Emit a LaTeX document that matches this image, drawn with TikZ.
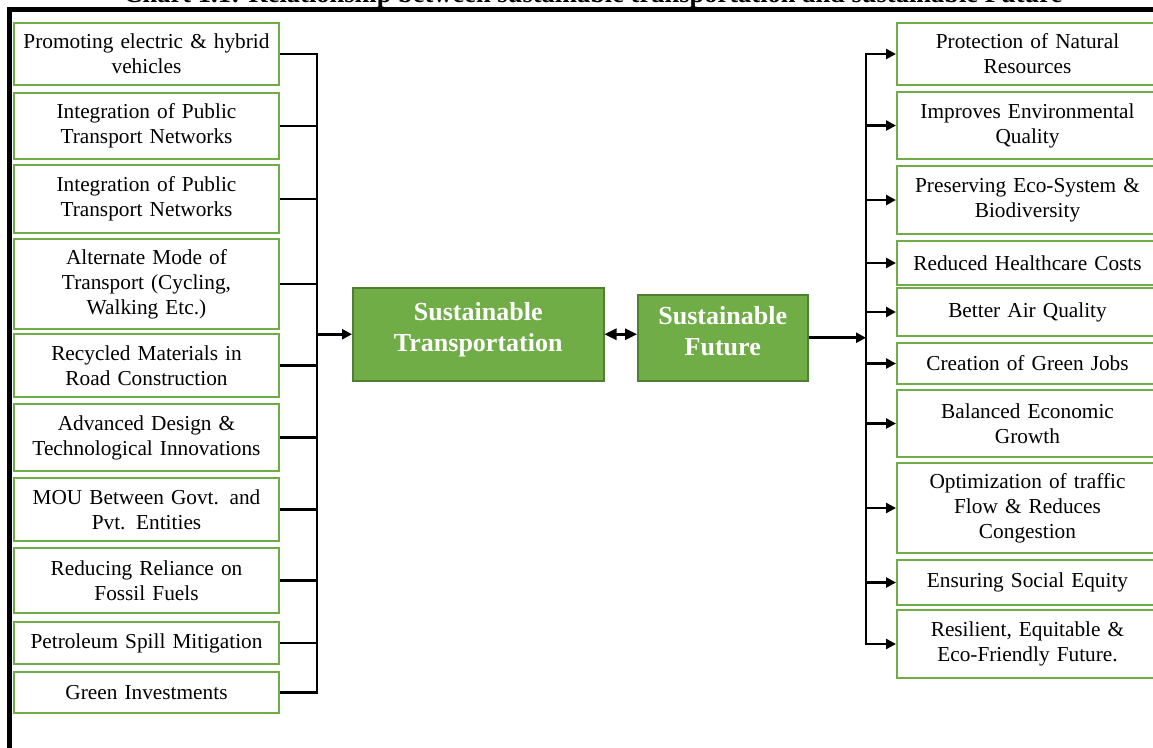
\documentclass[tikz,border=0pt]{standalone}
\usepackage{fontspec}
\setmainfont{Liberation Serif}
\usepackage{xcolor}
\usepackage{tikz}
\usetikzlibrary{arrows.meta,positioning}

\definecolor{boxgreen}{HTML}{70AD47}
\definecolor{darkgreen}{HTML}{507E32}

\begin{document}
\begin{tikzpicture}[
    x=1pt, y=-1pt,
    leftbox/.style={rectangle, draw=boxgreen, line width=2pt, anchor=north west, minimum width=265pt, text width=255pt, align=center, inner sep=0pt, font=\fontsize{21.3}{25}\selectfont},
    rightbox/.style={leftbox, minimum width=261pt, text width=250pt},
    core/.style={rectangle, draw=darkgreen, fill=boxgreen, line width=1.5pt, anchor=north west, align=center, inner sep=0pt, text=white, font=\bfseries\fontsize{26}{31}\selectfont},
    conn/.style={line width=2.6pt},
    arrow/.style={line width=2.6pt, -{Triangle[length=10pt,width=10pt]}},
    twoway/.style={line width=2.6pt, {Triangle[length=12pt,width=11pt]}-{Triangle[length=12pt,width=11pt]}}
]
\useasboundingbox (0,0) rectangle (1153,747);
\clip (0,0) rectangle (1153,747);

% Title (cut at the top) and frame
\node[anchor=base, inner sep=0pt, font=\bfseries\fontsize{26.5}{30}\selectfont] (title) at (593,2) {Chart 1.1: Relationship between sustainable transportation and sustainable Future};
\draw[line width=4.5pt] (9.5,760) -- (9.5,9.5) -- (1170,9.5);

% Left column: measures
\node[leftbox, minimum height=62pt] (promote) at (13,22) {Promoting electric \& hybrid\\vehicles};
\node[leftbox, minimum height=66pt] (publicA) at (13,92) {Integration of Public\\Transport Networks};
\node[leftbox, minimum height=68pt] (publicB) at (13,164) {Integration of Public\\Transport Networks};
\node[leftbox, minimum height=90pt] (alternate) at (13,238) {Alternate Mode of\\Transport (Cycling,\\Walking Etc.)};
\node[leftbox, minimum height=63pt] (recycled) at (13,333) {Recycled Materials in\\Road Construction};
\node[leftbox, minimum height=67pt] (design) at (13,403) {Advanced Design \&\\Technological Innovations};
\node[leftbox, minimum height=63pt] (mou) at (13,477) {MOU Between Govt. and\\Pvt. Entities};
\node[leftbox, minimum height=65pt] (fossil) at (13,547) {Reducing Reliance on\\Fossil Fuels};
\node[leftbox, minimum height=42pt] (spill) at (13,621) {Petroleum Spill Mitigation};
\node[leftbox, minimum height=41pt] (invest) at (13,671) {Green Investments};

% Centre
\node[core, minimum width=251pt, minimum height=93pt, text depth=14pt] (transp) at (352,287) {Sustainable\\Transportation};
\node[core, minimum width=170pt, minimum height=86pt, text depth=14pt] (future) at (637,294) {Sustainable\\Future};

% Right column: outcomes
\node[rightbox, minimum height=62pt] (natural) at (896,22) {Protection of Natural\\Resources};
\node[rightbox, minimum height=67pt] (environ) at (896,91) {Improves Environmental\\Quality};
\node[rightbox, minimum height=68pt] (ecosys) at (896,165) {Preserving Eco-System \&\\Biodiversity};
\node[rightbox, minimum height=44pt] (health) at (896,240) {Reduced Healthcare Costs};
\node[rightbox, minimum height=48pt] (air) at (896,287) {Better Air Quality};
\node[rightbox, minimum height=41pt] (jobs) at (896,342) {Creation of Green Jobs};
\node[rightbox, minimum height=67pt] (economy) at (896,389) {Balanced Economic\\Growth};
\node[rightbox, minimum height=90pt] (traffic) at (896,462) {Optimization of traffic\\Flow \& Reduces\\Congestion};
\node[rightbox, minimum height=45pt] (equity) at (896,559) {Ensuring Social Equity};
\node[rightbox, minimum height=68pt] (resilient) at (896,609) {Resilient, Equitable \&\\Eco-Friendly Future.};

% Buses
\coordinate (lbus) at (317,0);
\coordinate (rbus) at (866,0);

% Left connectors
\draw[conn] (promote.east) -- (promote.east -| lbus);
\draw[conn] (publicA.east) -- (publicA.east -| lbus);
\draw[conn] (publicB.east) -- (publicB.east -| lbus);
\draw[conn] (alternate.east) -- (alternate.east -| lbus);
\draw[conn] (recycled.east) -- (recycled.east -| lbus);
\draw[conn] (design.east) -- (design.east -| lbus);
\draw[conn] (mou.east) -- (mou.east -| lbus);
\draw[conn] (fossil.east) -- (fossil.east -| lbus);
\draw[conn] (spill.east) -- (spill.east -| lbus);
\draw[conn] (invest.east) -- (invest.east -| lbus);
\draw[conn, line cap=rect] (promote.east -| lbus) -- (invest.east -| lbus);
\draw[arrow] (transp.west -| lbus) -- (transp.west);

% Middle
\draw[twoway] (transp.east) -- (transp.east -| future.west);

% Right connectors
\draw[arrow] (future.east) -- (future.east -| rbus);
\draw[conn, line cap=rect] (natural.west -| rbus) -- (resilient.west -| rbus);
\draw[arrow] (natural.west -| rbus) -- (natural.west);
\draw[arrow] (environ.west -| rbus) -- (environ.west);
\draw[arrow] (ecosys.west -| rbus) -- (ecosys.west);
\draw[arrow] (health.west -| rbus) -- (health.west);
\draw[arrow] (air.west -| rbus) -- (air.west);
\draw[arrow] (jobs.west -| rbus) -- (jobs.west);
\draw[arrow] (economy.west -| rbus) -- (economy.west);
\draw[arrow] (traffic.west -| rbus) -- (traffic.west);
\draw[arrow] (equity.west -| rbus) -- (equity.west);
\draw[arrow] (resilient.west -| rbus) -- (resilient.west);

\end{tikzpicture}
\end{document}
